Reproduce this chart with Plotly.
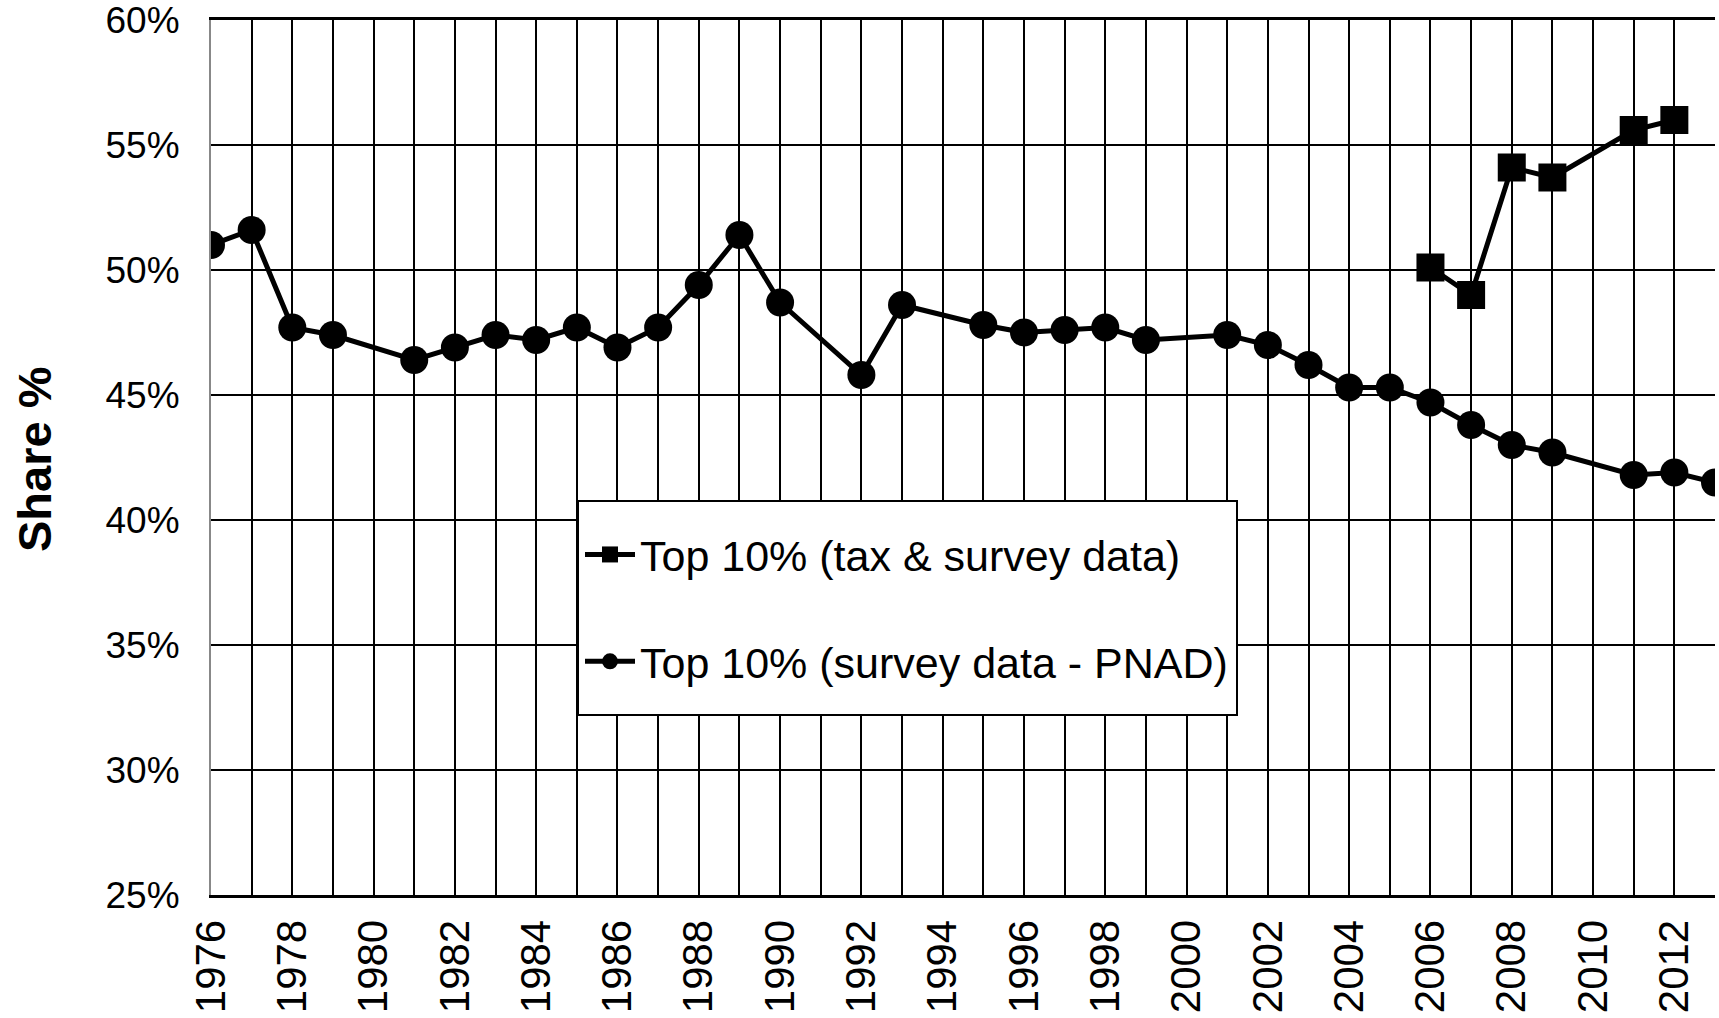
import plotly.graph_objects as go

# PNAD survey series
pnad_years = [1976, 1977, 1978, 1979, 1981, 1982, 1983, 1984, 1985, 1986, 1987, 1988, 1989, 1990,
              1992, 1993, 1995, 1996, 1997, 1998, 1999, 2001, 2002, 2003, 2004, 2005, 2006, 2007,
              2008, 2009, 2011, 2012, 2013]
pnad_share = [51.0, 51.6, 47.7, 47.4, 46.4, 46.9, 47.4, 47.2, 47.7, 46.9, 47.7, 49.4, 51.4, 48.7,
              45.8, 48.6, 47.8, 47.5, 47.6, 47.7, 47.2, 47.4, 47.0, 46.2, 45.3, 45.3, 44.7, 43.8,
              43.0, 42.7, 41.8, 41.9, 41.5]

# Tax & survey series
tax_years = [2006, 2007, 2008, 2009, 2011, 2012]
tax_share = [50.1, 49.0, 54.1, 53.7, 55.6, 56.0]

x_tick_vals = list(range(1976, 2014))
x_tick_text = [str(y) if (y % 2 == 0 and y <= 2012) else "" for y in x_tick_vals]
y_tick_vals = [25, 30, 35, 40, 45, 50, 55, 60]
y_tick_text = ["25%", "30%", "35%", "40%", "45%", "50%", "55%", "60%"]

L, R, T, B = 211, 4, 20, 123
W, H = 1719, 1018
pw, ph = W - L - R, H - T - B


def px_x(v):
    return (v - L) / pw


def px_y(v):
    return (H - B - v) / ph


fig = go.Figure()
fig.add_trace(go.Scatter(
    x=tax_years, y=tax_share, mode="lines+markers",
    name="Top 10% (tax & survey data)", legendgroup="a",
    line=dict(color="black", width=5),
    marker=dict(symbol="square", size=28, color="black"),
))
fig.add_trace(go.Scatter(
    x=pnad_years, y=pnad_share, mode="lines+markers",
    name="Top 10% (survey data - PNAD)", legendgroup="b",
    line=dict(color="black", width=5),
    marker=dict(symbol="circle", size=28, color="black"),
))

fig.update_layout(
    width=W, height=H,
    margin=dict(l=L, r=R, t=T, b=B, autoexpand=False),
    paper_bgcolor="white", plot_bgcolor="white",
    font=dict(family="Liberation Sans, Arial, sans-serif", color="black"),
    showlegend=True,
    legend=dict(
        x=px_x(580), y=px_y(520), xanchor="left", yanchor="top",
        bgcolor="rgba(0,0,0,0)", borderwidth=0,
        font=dict(size=43, color="black"),
        traceorder="grouped", tracegroupgap=48, itemwidth=50,
    ),
    shapes=[dict(
        type="rect", xref="paper", yref="paper",
        x0=px_x(578), x1=px_x(1237), y0=px_y(715), y1=px_y(501),
        line=dict(color="black", width=2), fillcolor="white", layer="above",
    )],
    annotations=[dict(
        text="<b>Share %</b>", xref="paper", yref="paper",
        x=px_x(34), y=px_y(460), xanchor="center", yanchor="middle",
        textangle=-90, showarrow=False, font=dict(size=47, color="black"),
    )],
)
fig.update_xaxes(
    range=[1976, 2013], tickmode="array", tickvals=x_tick_vals, ticktext=x_tick_text,
    tickangle=-90, tickfont=dict(size=42), showgrid=True, gridcolor="black", gridwidth=2,
    showline=True, linecolor="black", linewidth=3, mirror=True, ticks="", zeroline=False,
    automargin=False, ticklabelstandoff=5, ticklabeloverflow="allow",
)
fig.update_yaxes(
    range=[25, 60], tickmode="array", tickvals=y_tick_vals, ticktext=y_tick_text,
    tickfont=dict(size=37), showgrid=True, gridcolor="black", gridwidth=2,
    showline=True, linecolor="#888888", linewidth=2, ticks="", zeroline=False,
    automargin=False, ticklabelstandoff=22, ticklabeloverflow="allow",
)

fig.write_html(
    "out.html",
    config={"displayModeBar": False},
    post_script="document.body.style.margin='0';document.body.style.overflow='hidden';",
)
